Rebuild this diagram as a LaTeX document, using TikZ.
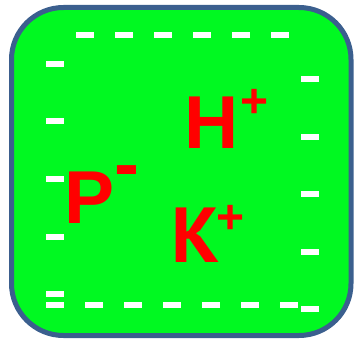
\documentclass[tikz,border=0pt]{standalone}
\usepackage{fontspec}
\setmainfont{Liberation Sans}
\newfontfamily\cyrfont{PT Sans}
\usepackage{xcolor}
\usepackage{tikz}
\usetikzlibrary{positioning}
\definecolor{CellGreen} {HTML}{00F921}
\definecolor{CellBorder}{HTML}{3B5F8E}
\definecolor{IonRed}    {HTML}{FF0000}
\definecolor{ChargeWhite}{HTML}{FFFFFF}

\begin{document}
\begin{tikzpicture}[x=1pt,y=-1pt,
    ion/.style={font=\fontsize{75}{75}\selectfont\bfseries,text=IonRed,inner sep=0pt,anchor=base west},
    sign/.style={font=\fontsize{48}{48}\selectfont\bfseries,text=IonRed,inner sep=0pt,anchor=base west}]
    \useasboundingbox (0,0) rectangle (355,339);
    % cell
    \draw[line width=5pt,draw=CellBorder,fill=CellGreen,rounded corners=52pt] (11.5,7.5) rectangle (351,335.5);

    % charges top
    \foreach \i in {0,...,5}
      \fill[ChargeWhite] (76+39*\i,32) rectangle ++(18,6);
    % charges left
    \foreach \i in {0,...,4}
      \fill[ChargeWhite] (46,61+57.5*\i) rectangle ++(18,6);
    % charges bottom
    \foreach \i in {0,...,6}
      \fill[ChargeWhite] (46+39*\i,302) rectangle ++(18,6);
    % charges right
    \foreach \i in {0,...,4}
      \fill[ChargeWhite] (301,76+57.5*\i) rectangle ++(18,6);

    % H+
    \node[ion]  (ionH)  at (184.5,148) {H};
    \node[sign] (signH) at (240,117.5) {+};
    % P-
    \node[ion]  (ionP)  at (64.5,223) {P};
    \node[ion]  (signP) at (114.5,189.5) {-};
    % K+
    \node[ion,font=\fontsize{78}{78}\selectfont\bfseries\cyrfont] (ionK) at (171,262) {К};
    \node[sign] (signK) at (216,233.5) {+};
\end{tikzpicture}
\end{document}
